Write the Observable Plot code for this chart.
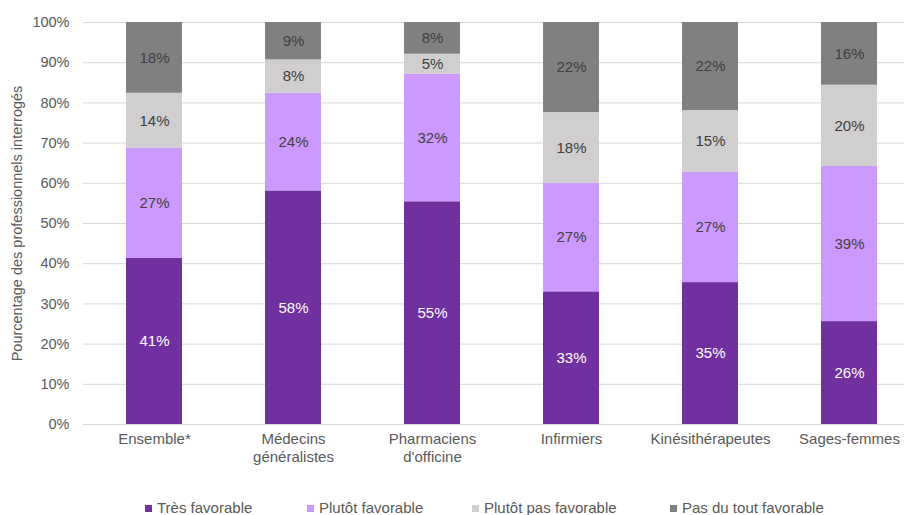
<!DOCTYPE html>
<html>
<head>
<meta charset="utf-8">
<script src="https://cdn.jsdelivr.net/npm/d3@7"></script>
<script src="https://cdn.jsdelivr.net/npm/@observablehq/plot@0.6"></script>
<style>
  body { margin: 0; background: #fff; font-family: "Liberation Sans", Arial, sans-serif; }
  #wrap { position: relative; width: 904px; height: 515px; }
  #legend { position: absolute; left: 0; top: 498px; width: 904px; height: 20px; font-size: 15px; color: #595959; }
  .item { position: absolute; top: 0; white-space: nowrap; line-height: 20px; }
  .sw { display: inline-block; width: 7px; height: 7px; margin-right: 5px; vertical-align: 1px; }
</style>
</head>
<body>
<div id="wrap"><div id="chart"></div><div id="legend"></div></div>
<script>
const categories = ["Ensemble*", "Médecins\ngénéralistes", "Pharmaciens\nd'officine", "Infirmiers", "Kinésithérapeutes", "Sages-femmes"];
const seriesNames = ["Très favorable", "Plutôt favorable", "Plutôt pas favorable", "Pas du tout favorable"];
const colors = ["#7030a0", "#cc99ff", "#d0cece", "#808080"];
const tresFavorable     = [41.3, 58.1, 55.4, 33.0, 35.3, 25.6];
const plutotFavorable   = [27.4, 24.3, 31.7, 27.0, 27.4, 38.6];
const plutotPasFav      = [13.7,  8.3,  5.0, 17.6, 15.4, 20.2];
const pasDuToutFav      = [17.6,  9.3,  7.9, 22.4, 21.9, 15.6];
const yTicks = [0, 10, 20, 30, 40, 50, 60, 70, 80, 90, 100];
const yLabel = "Pourcentage des professionnels interrogés";

const seriesValues = [tresFavorable, plutotFavorable, plutotPasFav, pasDuToutFav];
const data = [];
seriesNames.forEach((s, si) => {
  categories.forEach((c, ci) => data.push({cat: c, series: s, value: seriesValues[si][ci]}));
});

const chart = Plot.plot({
  width: 904,
  height: 475,
  marginTop: 22,
  marginBottom: 51,
  marginLeft: 83,
  marginRight: 0,
  style: {fontFamily: '"Liberation Sans", Arial, sans-serif', fontSize: "15px", color: "#595959", background: "#fff"},
  x: {domain: categories, range: [83, 919], paddingInner: 0.6, paddingOuter: 0.3, label: null},
  y: {domain: [0, 100], label: null},
  color: {domain: seriesNames, range: colors},
  marks: [
    Plot.gridY(yTicks, {stroke: "#d9d9d9", strokeOpacity: 1, strokeWidth: 1}),
    Plot.barY(data, Plot.stackY({x: "cat", y: "value", z: "series", fill: "series", order: seriesNames})),
    Plot.text(data, Plot.stackY({
      x: "cat", y: "value", z: "series", order: seriesNames,
      text: d => Math.round(d.value) + "%",
      fill: d => d.series === "Très favorable" ? "#ffffff" : "#404040",
      fontSize: 15
    })),
    Plot.axisY(yTicks, {tickSize: 0, tickPadding: 14, tickFormat: d => d + "%", fontSize: 14.5, fill: "#595959",
      label: yLabel, labelArrow: "none", labelAnchor: "center", labelOffset: 72}),
    Plot.axisX({tickSize: 0, tickPadding: 7, lineHeight: 1.2, fontSize: 15, fill: "#595959", label: null})
  ]
});
document.getElementById("chart").appendChild(chart);

const legendPos = [145, 307, 472, 670];
const legend = document.getElementById("legend");
seriesNames.forEach((s, i) => {
  const it = document.createElement("div");
  it.className = "item";
  it.style.left = legendPos[i] + "px";
  it.innerHTML = `<span class="sw" style="background:${colors[i]}"></span>${s}`;
  legend.appendChild(it);
});
</script>
</body>
</html>
